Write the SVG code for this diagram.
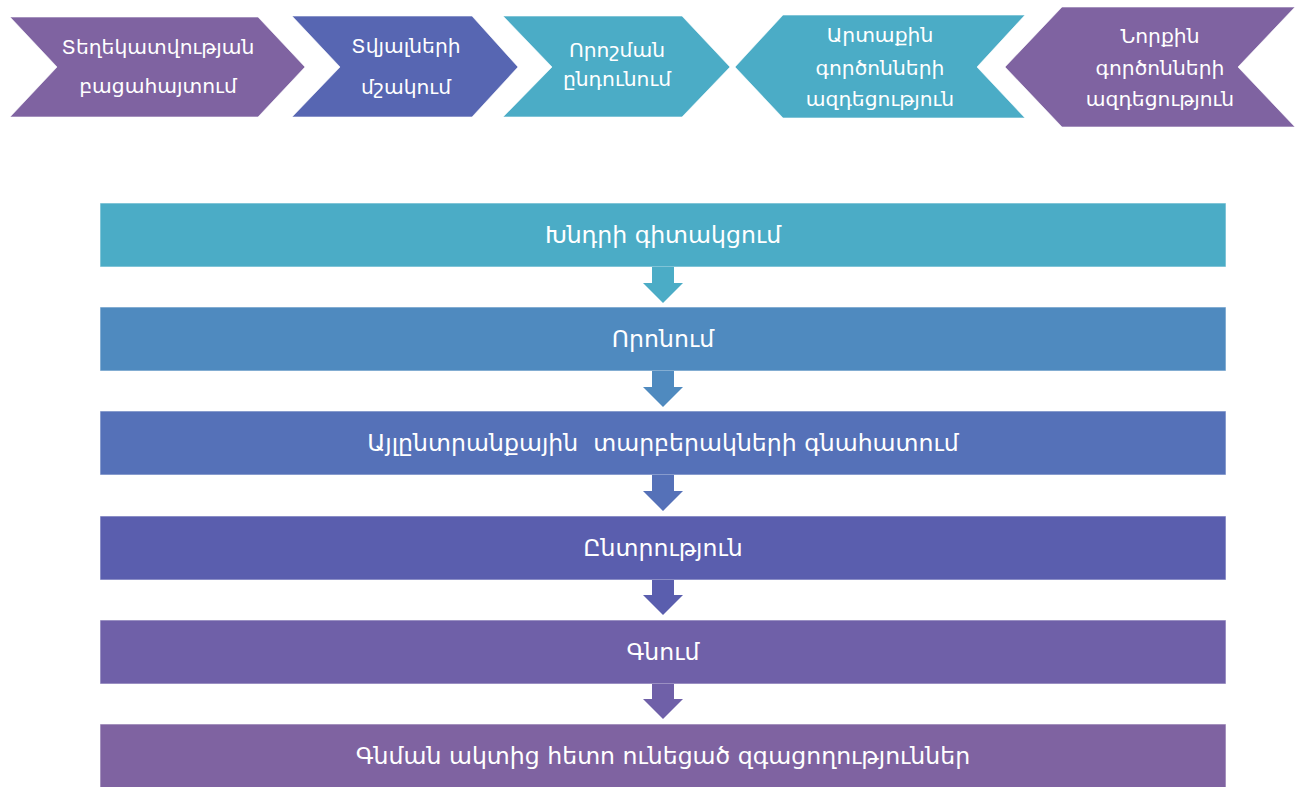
<svg xmlns="http://www.w3.org/2000/svg" width="1304" height="787" viewBox="0 0 1304 787">
<style>
.t{font-family:"DejaVu Sans","Noto Sans",sans-serif;fill:#fff;text-anchor:middle}
.c{font-size:20.3px}
.b{font-size:23.6px}
.sh{stroke:#fff;stroke-width:1;stroke-opacity:0.6}
</style>
<rect width="1304" height="787" fill="#fff"/>
<g id="chev1"><polygon class="sh" points="10,17 258,17 305,67 258,117 10,117 57,67" fill="#7F63A1"/>
<text class="t c" x="158" y="54">Տեղեկատվության</text><text class="t c" x="158" y="93">բացահայտում</text></g>
<g id="chev2"><polygon class="sh" points="292,16 472,16 518,67 472,117 292,117 340,67" fill="#5766B2"/>
<text class="t c" x="406" y="53">Տվյալների</text><text class="t c" x="406" y="94">մշակում</text></g>
<g id="chev3"><polygon class="sh" points="503,16 682,16 730,67 682,117 503,117 552,67" fill="#4BACC6"/>
<text class="t c" x="617" y="57">Որոշման</text><text class="t c" x="617" y="86">ընդունում</text></g>
<g id="chev4"><polygon class="sh" points="735,67 783,15 1025,15 977,67 1025,118 783,118" fill="#4BACC6"/>
<text class="t c" x="880" y="42">Արտաքին</text><text class="t c" x="880" y="75">գործոնների</text><text class="t c" x="880" y="106">ազդեցություն</text></g>
<g id="chev5"><polygon class="sh" points="1005,67 1062,7 1295,7 1238,67 1295,127 1062,127" fill="#7F63A1"/>
<text class="t c" x="1160" y="43">Նորքին</text><text class="t c" x="1160" y="75">գործոնների</text><text class="t c" x="1160" y="106">ազդեցություն</text></g>
<g id="box1"><rect class="sh" x="100" y="203" width="1126" height="64" fill="#4BACC6"/><text class="t b" x="663" y="243">Խնդրի գիտակցում</text></g>
<g id="box2"><rect class="sh" x="100" y="307" width="1126" height="64" fill="#4F8ABF"/><text class="t b" x="663" y="347">Որոնում</text></g>
<g id="box3"><rect class="sh" x="100" y="411" width="1126" height="64" fill="#5571B8"/><text class="t b" x="663" y="451" xml:space="preserve">Այլընտրանքային  տարբերակների գնահատում</text></g>
<g id="box4"><rect class="sh" x="100" y="516" width="1126" height="64" fill="#5A5EAE"/><text class="t b" x="663" y="556">Ընտրություն</text></g>
<g id="box5"><rect class="sh" x="100" y="620" width="1126" height="64" fill="#6F60A8"/><text class="t b" x="663" y="660">Գնում</text></g>
<g id="box6"><rect class="sh" x="100" y="724" width="1126" height="70" fill="#7F63A1"/><text class="t b" x="663" y="764">Գնման ակտից հետո ունեցած զգացողություններ</text></g>
<g id="connectors">
<polygon points="652,267 674,267 674,283 683,283 663,303 643,283 652,283" fill="#4BACC6"/>
<polygon points="652,371 674,371 674,387 683,387 663,407 643,387 652,387" fill="#4F8ABF"/>
<polygon points="652,475 674,475 674,491 683,491 663,511 643,491 652,491" fill="#5571B8"/>
<polygon points="652,580 674,580 674,595 683,595 663,615 643,595 652,595" fill="#5A5EAE"/>
<polygon points="652,684 674,684 674,699 683,699 663,719 643,699 652,699" fill="#6F60A8"/>
</g>
</svg>
